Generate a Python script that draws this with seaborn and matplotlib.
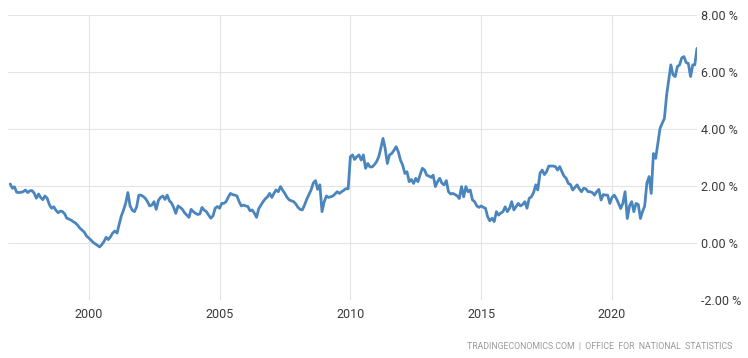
import matplotlib
matplotlib.use("Agg")
import matplotlib.pyplot as plt
import seaborn as sns
import pandas as pd

# ---- data (monthly, annual % rate) ----
start_month = "1997-01-01"
inflation_rate = [
    # 1997
    2.07, 1.92, 1.97, 1.78, 1.77, 1.78, 1.80, 1.86, 1.77, 1.83, 1.84, 1.75,
    # 1998
    1.57, 1.72, 1.60, 1.52, 1.65, 1.57, 1.35, 1.22, 1.27, 1.15, 1.06, 1.12,
    # 1999
    1.10, 1.02, 0.87, 0.84, 0.80, 0.75, 0.70, 0.62, 0.52, 0.45, 0.38, 0.25,
    # 2000
    0.18, 0.10, 0.03, -0.03, -0.08, -0.14, -0.06, 0.05, 0.20, 0.12, 0.22, 0.35,
    # 2001
    0.42, 0.35, 0.65, 0.95, 1.15, 1.40, 1.77, 1.30, 1.15, 1.10, 1.27, 1.68,
    # 2002
    1.68, 1.63, 1.57, 1.45, 1.30, 1.33, 1.45, 1.18, 1.50, 1.60, 1.65, 1.53,
    # 2003
    1.68, 1.48, 1.41, 1.25, 1.04, 1.30, 1.25, 1.18, 1.06, 0.98, 0.90, 1.18,
    # 2004
    1.10, 1.04, 1.00, 1.02, 1.25, 1.15, 1.10, 0.98, 0.87, 0.95, 1.22, 1.28,
    # 2005
    1.22, 1.39, 1.39, 1.45, 1.60, 1.74, 1.70, 1.68, 1.65, 1.45, 1.30, 1.33,
    # 2006
    1.30, 1.28, 1.13, 1.16, 1.05, 0.90, 1.20, 1.33, 1.45, 1.55, 1.62, 1.74,
    # 2007
    1.60, 1.75, 1.86, 1.80, 1.98, 1.85, 1.74, 1.60, 1.51, 1.48, 1.45, 1.37,
    # 2008
    1.25, 1.18, 1.16, 1.33, 1.53, 1.70, 1.86, 2.10, 2.19, 1.88, 2.04, 1.10,
    # 2009
    1.45, 1.65, 1.60, 1.62, 1.65, 1.72, 1.80, 1.74, 1.80, 1.85, 1.91, 1.90,
    # 2010
    3.03, 3.09, 2.93, 3.03, 3.09, 2.91, 3.09, 2.62, 2.79, 2.67, 2.67, 2.75,
    # 2011
    2.85, 3.03, 3.32, 3.67, 3.32, 2.79, 3.09, 3.14, 3.25, 3.38, 3.20, 2.91,
    # 2012
    2.73, 2.44, 2.50, 2.15, 2.23, 2.09, 2.27, 2.15, 2.40, 2.62, 2.56, 2.38,
    # 2013
    2.35, 2.30, 2.38, 1.98, 2.15, 2.27, 2.10, 2.04, 2.19, 1.80, 1.72, 1.74,
    # 2014
    1.70, 1.65, 1.56, 1.98, 1.62, 1.98, 1.80, 1.86, 1.51, 1.45, 1.30, 1.25,
    # 2015
    1.30, 1.25, 1.22, 0.92, 0.78, 0.87, 0.75, 1.10, 0.98, 1.05, 1.10, 1.27,
    # 2016
    1.10, 1.22, 1.45, 1.16, 1.27, 1.39, 1.30, 1.35, 1.45, 1.22, 1.57, 1.62,
    # 2017
    1.77, 2.04, 1.86, 2.45, 2.56, 2.40, 2.50, 2.70, 2.70, 2.70, 2.68, 2.56,
    # 2018
    2.68, 2.50, 2.35, 2.27, 2.09, 2.05, 1.86, 1.95, 2.04, 1.90, 1.80, 1.92,
    # 2019
    1.90, 1.80, 1.80, 1.77, 1.68, 1.80, 1.88, 1.51, 1.70, 1.68, 1.68, 1.39,
    # 2020
    1.60, 1.68, 1.56, 1.39, 1.21, 1.40, 1.80, 0.86, 1.30, 1.45, 1.10, 1.39,
    # 2021
    1.35, 0.86, 1.10, 1.30, 2.10, 2.33, 1.74, 3.14, 2.97, 3.50, 4.02, 4.20,
    # 2022
    4.37, 5.19, 5.70, 6.25, 5.90, 5.84, 6.19, 6.25, 6.50, 6.54, 6.33, 6.30,
    # 2023
    5.84, 6.25, 6.25, 6.83,
]
y_ticks = [-2, 0, 2, 4, 6, 8]
x_tick_years = [2000, 2005, 2010, 2015, 2020]
source_text = "TRADINGECONOMICS.COM  |  OFFICE  FOR  NATIONAL  STATISTICS"

dates = pd.date_range(start_month, periods=len(inflation_rate), freq="MS")
df = pd.DataFrame({"date": dates, "rate": inflation_rate})

sns.set_theme(style="white")
plt.rcParams["font.family"] = ["Roboto", "DejaVu Sans"]

W, H = 748, 358
fig = plt.figure(figsize=(W / 100, H / 100), dpi=100)
fig.patch.set_facecolor("white")
ax = fig.add_axes([8 / W, 1 - 300 / H, (697 - 8) / W, (300 - 15) / H])

sns.lineplot(data=df, x="date", y="rate", ax=ax, color="#4a86bd",
             linewidth=2.0, zorder=3)

ax.set_xlim(pd.Timestamp("1996-12-01"), dates[-1])
ax.set_ylim(-2, 8)

ax.yaxis.tick_right()
ax.set_yticks(y_ticks)
ax.set_yticklabels([f"{v:.2f} %" for v in y_ticks])
ax.set_xticks([pd.Timestamp(f"{y}-01-01") for y in x_tick_years])
ax.set_xticklabels([str(y) for y in x_tick_years])

ax.grid(True, color="#e4e4e4", linewidth=0.8, zorder=0)
for s in ax.spines.values():
    s.set_visible(False)
ax.tick_params(length=0, labelsize=9, colors="#3a3a3a")
ax.tick_params(axis="y", pad=3)
ax.tick_params(axis="x", pad=6)
ax.set_xlabel("")
ax.set_ylabel("")

fig.text(732 / W, 1 - 347 / H, source_text, ha="right", va="center",
         fontsize=6.3, color="#9a9a9a")

fig.savefig("out.png", dpi=100, facecolor="white")
